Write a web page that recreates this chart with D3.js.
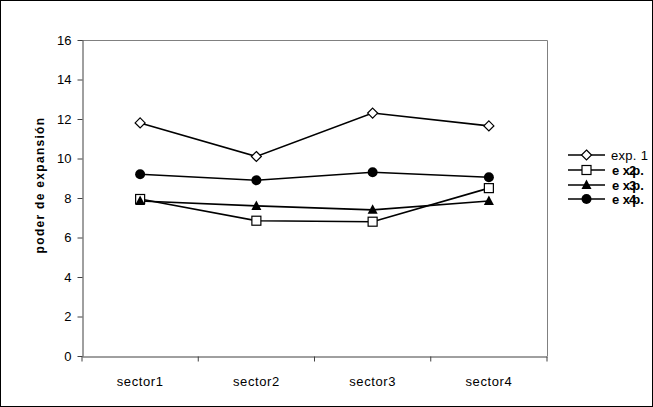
<!DOCTYPE html>
<html>
<head>
<meta charset="utf-8">
<script src="https://cdn.jsdelivr.net/npm/d3@7"></script>
<style>
  body { margin: 0; background: #fff; }
  text { font-family: "Liberation Sans", Arial, sans-serif; }
</style>
</head>
<body>
<svg id="chart" width="653" height="407"></svg>
<script>
// chart data
var sectors = ["sector1", "sector2", "sector3", "sector4"];
var exp1 = [11.8, 10.1, 12.3, 11.65];
var exp2 = [7.95, 6.85, 6.8, 8.5];
var exp3 = [7.85, 7.6, 7.4, 7.85];
var exp4 = [9.2, 8.9, 9.3, 9.05];
var seriesNames = ["exp. 1", "exp. 2", "exp. 3", "exp. 4"];
var yTicks = [0, 2, 4, 6, 8, 10, 12, 14, 16];

var svg = d3.select("#chart");
var plotL = 82, plotR = 547, plotT = 40, plotB = 356;

// outer border
svg.append("rect").attr("x", 0.5).attr("y", 0.5).attr("width", 652).attr("height", 406)
  .attr("fill", "#fff").attr("stroke", "#000");

var x = d3.scaleBand().domain(sectors).range([plotL, plotR]);
var y = d3.scaleLinear().domain([0, 16]).range([plotB, plotT]);

// plot frame (top/right grey)
svg.append("path")
  .attr("d", "M" + plotL + "," + (plotT + 0.5) + "H" + (plotR + 0.5) + "V" + plotB)
  .attr("fill", "none").attr("stroke", "#808080");

var yAxis = svg.append("g").attr("transform", "translate(" + (plotL + 0.5) + ",0)")
  .call(d3.axisLeft(y).tickValues(yTicks).tickSize(5).tickSizeOuter(0).tickPadding(6));
yAxis.select(".domain").attr("stroke", "#404040");
yAxis.selectAll(".tick line").attr("stroke", "#404040");
yAxis.selectAll("text").attr("font-size", 13).attr("fill", "#000").attr("font-family", "Liberation Sans, Arial, sans-serif");

var xAxis = svg.append("g").attr("transform", "translate(0," + (plotB + 0.5) + ")")
  .call(d3.axisBottom(x).tickSize(0).tickPadding(20));
xAxis.select(".domain").attr("stroke", "#404040");
xAxis.selectAll("text").attr("font-size", 13).attr("letter-spacing", 0.6)
  .attr("fill", "#000").attr("font-family", "Liberation Sans, Arial, sans-serif");
// category separators
xAxis.selectAll(".sep").data(sectors.concat([null])).enter().append("line")
  .attr("x1", function(d, i) { return plotL + i * x.step(); })
  .attr("x2", function(d, i) { return plotL + i * x.step(); })
  .attr("y1", 0).attr("y2", 5).attr("stroke", "#404040");

// y title
svg.append("text")
  .attr("transform", "translate(44," + ((plotT + plotB) / 2 - 13) + ") rotate(-90)")
  .attr("text-anchor", "middle").attr("font-size", 12).attr("font-weight", "bold")
  .attr("letter-spacing", 1.3)
  .text("poder de expansión");

var cx = function(i) { return x(sectors[i]) + x.bandwidth() / 2; };
var line = d3.line().x(function(d, i) { return cx(i); }).y(function(d) { return y(d); });

var allSeries = [exp1, exp2, exp3, exp4];
var markers = ["diamond", "square", "triangle", "circle"];

function drawMarker(g, kind, px, py) {
  if (kind === "diamond") {
    g.append("path").attr("d", "M" + px + "," + (py - 5) + "L" + (px + 5) + "," + py + "L" + px + "," + (py + 5) + "L" + (px - 5) + "," + py + "Z")
      .attr("fill", "#fff").attr("stroke", "#000").attr("stroke-width", 1.2);
  } else if (kind === "square") {
    g.append("rect").attr("x", px - 4.5).attr("y", py - 4.5).attr("width", 9).attr("height", 9)
      .attr("fill", "#fff").attr("stroke", "#000").attr("stroke-width", 1.2);
  } else if (kind === "triangle") {
    g.append("path").attr("d", "M" + px + "," + (py - 5.5) + "L" + (px + 5) + "," + (py + 4) + "L" + (px - 5) + "," + (py + 4) + "Z")
      .attr("fill", "#000");
  } else {
    g.append("circle").attr("cx", px).attr("cy", py).attr("r", 5).attr("fill", "#000");
  }
}

var plot = svg.append("g");
allSeries.forEach(function(s, k) {
  plot.append("path").datum(s).attr("d", line).attr("fill", "none")
    .attr("stroke", "#000").attr("stroke-width", 1.6);
});
allSeries.forEach(function(s, k) {
  s.forEach(function(v, i) { drawMarker(plot, markers[k], cx(i), y(v)); });
});

// legend
var legY = [155, 170, 185, 199];
var leg = svg.append("g");
seriesNames.forEach(function(name, k) {
  var ly = legY[k];
  leg.append("line").attr("x1", 568).attr("x2", 605).attr("y1", ly).attr("y2", ly)
    .attr("stroke", "#000").attr("stroke-width", 1.6);
  drawMarker(leg, markers[k], 586.5, ly);
  if (k === 0) {
    leg.append("text").attr("x", 611).attr("y", ly + 4.5).attr("font-size", 13)
      .attr("letter-spacing", 0.3).text(name);
  } else {
    // later entries render with the number crowded onto the "p"
    var t = leg.append("text").attr("x", 612).attr("y", ly + 4.5).attr("font-size", 13)
      .attr("font-weight", "bold");
    t.append("tspan").text("e x");
    t.append("tspan").attr("dx", -1).text(name.slice(-1));
    t.append("tspan").attr("dx", -4).text("p.");
  }
});
</script>
</body>
</html>
